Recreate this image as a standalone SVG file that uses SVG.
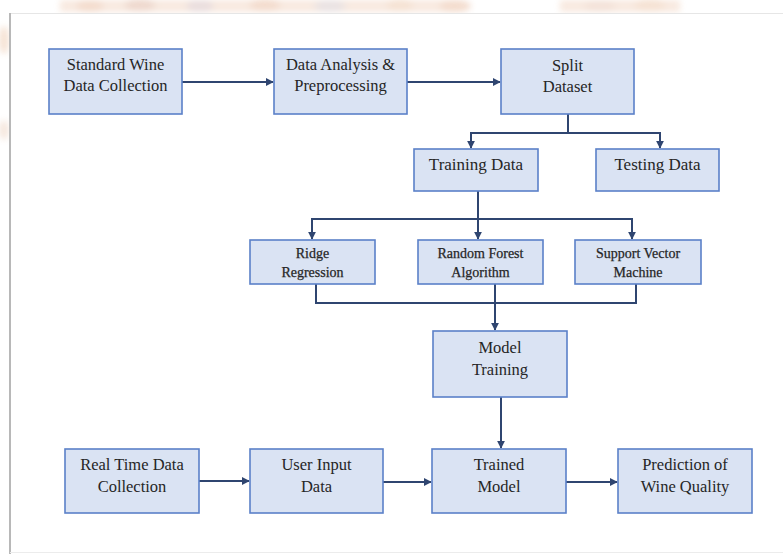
<svg xmlns="http://www.w3.org/2000/svg" width="783" height="554" viewBox="0 0 783 554">
<defs>
<style>
.box{fill:#dae3f3;stroke:#5b80c8;stroke-width:1.6}
.t{font-family:"Liberation Serif","Times New Roman",serif;fill:#262626;text-anchor:middle}
.l{font-size:16.5px}
.s{font-size:14px;stroke:#262626;stroke-width:0.25}
.c{fill:none;stroke:#2f4570;stroke-width:2}
</style>
<marker id="ah" viewBox="0 0 10 10" refX="9" refY="5" markerWidth="4" markerHeight="4" orient="auto-start-reverse" markerUnits="strokeWidth">
<path d="M0,0 L10,5 L0,10 z" fill="#2f4570"/>
</marker>
<filter id="blur"><feGaussianBlur stdDeviation="3"/></filter>
</defs>
<rect x="0" y="0" width="783" height="554" fill="#ffffff"/>
<g id="watermark" filter="url(#blur)" opacity="0.3">
<rect x="60" y="0" width="400" height="12" fill="#e8b898"/>
<rect x="560" y="0" width="120" height="12" fill="#e8b898"/>
<ellipse cx="90" cy="6" rx="14" ry="6" fill="#d98c5c"/>
<ellipse cx="140" cy="5" rx="16" ry="6" fill="#c9805c"/>
<ellipse cx="200" cy="6" rx="14" ry="6" fill="#b89090"/>
<ellipse cx="265" cy="5" rx="16" ry="6" fill="#d98c5c"/>
<ellipse cx="330" cy="6" rx="16" ry="6" fill="#b8a0a0"/>
<ellipse cx="400" cy="5" rx="14" ry="6" fill="#e0a070"/>
<ellipse cx="455" cy="6" rx="16" ry="6" fill="#d98c5c"/>
<ellipse cx="600" cy="6" rx="16" ry="6" fill="#d9a080"/>
<ellipse cx="650" cy="5" rx="16" ry="6" fill="#e0a070"/>
<ellipse cx="4" cy="40" rx="5" ry="14" fill="#e0a070"/>
<ellipse cx="4" cy="130" rx="5" ry="10" fill="#e0b090"/>
</g>
<rect x="10" y="13" width="773" height="541" fill="#ffffff"/>
<line x1="10" y1="13.5" x2="783" y2="13.5" stroke="#e6e6e6" stroke-width="1"/>
<line x1="10" y1="13" x2="10" y2="554" stroke="#b8b8b8" stroke-width="2"/>
<line x1="10" y1="552.5" x2="783" y2="552.5" stroke="#ececec" stroke-width="1"/>

<g id="connectors">
<line class="c" x1="182" y1="82" x2="273" y2="82" marker-end="url(#ah)"/>
<line class="c" x1="407" y1="82" x2="500" y2="82" marker-end="url(#ah)"/>
<polyline class="c" points="568,114 568,133"/>
<polyline class="c" points="471,148 471,133 660,133 660,148" marker-start="url(#ah)" marker-end="url(#ah)"/>
<polyline class="c" points="478,191 478,239"  marker-end="url(#ah)"/>
<polyline class="c" points="312,239 312,219 632,219 632,239" marker-start="url(#ah)" marker-end="url(#ah)"/>
<polyline class="c" points="316,284 316,303 636,303 636,284"/>
<polyline class="c" points="495,284 495,330" marker-end="url(#ah)"/>
<polyline class="c" points="501,397 501,448" marker-end="url(#ah)"/>
<line class="c" x1="199" y1="481" x2="249" y2="481" marker-end="url(#ah)"/>
<line class="c" x1="383" y1="482" x2="431" y2="482" marker-end="url(#ah)"/>
<line class="c" x1="566" y1="482" x2="617" y2="482" marker-end="url(#ah)"/>
</g>

<g id="n-standard"><rect class="box" x="49" y="49" width="133" height="65"/>
<text class="t l" x="115.5" y="70">Standard Wine</text><text class="t l" x="115.5" y="91">Data Collection</text></g>
<g id="n-analysis"><rect class="box" x="274" y="49" width="133" height="65"/>
<text class="t l" x="340.5" y="70">Data Analysis &amp;</text><text class="t l" x="340.5" y="91">Preprocessing</text></g>
<g id="n-split"><rect class="box" x="501" y="49" width="133" height="65"/>
<text class="t l" x="567.5" y="71">Split</text><text class="t l" x="567.5" y="92">Dataset</text></g>
<g id="n-training"><rect class="box" x="414" y="149" width="124" height="42"/>
<text class="t l" x="476" y="170" style="font-size:17px">Training Data</text></g>
<g id="n-testing"><rect class="box" x="596" y="149" width="123" height="42"/>
<text class="t l" x="657.5" y="170" style="font-size:17px">Testing Data</text></g>
<g id="n-ridge"><rect class="box" x="250" y="240" width="125" height="44"/>
<text class="t s" x="312.5" y="258">Ridge</text><text class="t s" x="312.5" y="277">Regression</text></g>
<g id="n-rf"><rect class="box" x="418" y="240" width="125" height="44"/>
<text class="t s" x="480.5" y="258">Random Forest</text><text class="t s" x="480.5" y="277">Algorithm</text></g>
<g id="n-svm"><rect class="box" x="575" y="240" width="126" height="44"/>
<text class="t s" x="638" y="258">Support Vector</text><text class="t s" x="638" y="277">Machine</text></g>
<g id="n-modeltraining"><rect class="box" x="433" y="331" width="134" height="66"/>
<text class="t l" x="500" y="353">Model</text><text class="t l" x="500" y="375">Training</text></g>
<g id="n-realtime"><rect class="box" x="65" y="449" width="134" height="64"/>
<text class="t l" x="132" y="470">Real Time Data</text><text class="t l" x="132" y="492">Collection</text></g>
<g id="n-userinput"><rect class="box" x="250" y="449" width="133" height="64"/>
<text class="t l" x="316.5" y="470">User Input</text><text class="t l" x="316.5" y="492">Data</text></g>
<g id="n-trained"><rect class="box" x="432" y="449" width="134" height="64"/>
<text class="t l" x="499" y="470">Trained</text><text class="t l" x="499" y="492">Model</text></g>
<g id="n-prediction"><rect class="box" x="618" y="449" width="134" height="64"/>
<text class="t l" x="685" y="470">Prediction of</text><text class="t l" x="685" y="492">Wine Quality</text></g>
</svg>
